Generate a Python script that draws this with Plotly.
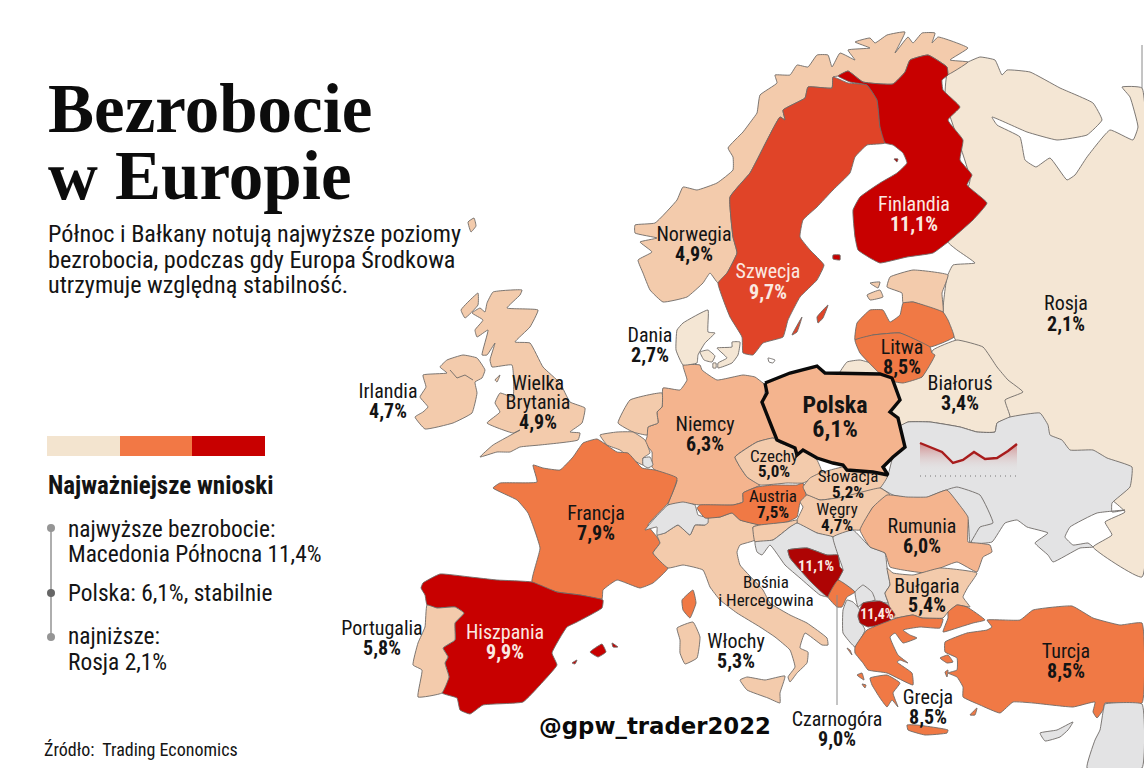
import plotly.graph_objects as go

W, H = 1144, 768

# unemployment labels, one row per country label
label_names = ["Rosja", "Finlandia", "Norwegia", "Szwecja", "Dania", "Litwa", "Białoruś", "Irlandia",
               "Niemcy", "Francja", "Rumunia", "Bułgaria", "Hiszpania", "Portugalia", "Włochy", "Turcja",
               "Grecja", "Czarnogóra"]
label_values = ["2,1%", "11,1%", "4,9%", "9,7%", "2,7%", "8,5%", "3,4%", "4,7%",
                "6,3%", "7,9%", "6,0%", "5,4%", "9,9%", "5,8%", "5,3%", "8,5%",
                "8,5%", "9,0%"]
label_x = [1066, 914, 694, 768, 650, 902, 960, 388, 705, 596, 922, 927, 505, 382, 736, 1066, 928, 837]
label_name_y = [305, 206, 236, 273, 337, 349, 385, 393, 426, 515, 528, 588, 634, 630, 643, 653, 699, 721]
label_value_y = [326, 226, 256, 294, 357, 369, 405, 413, 446, 535, 548, 607, 654, 650, 663, 673, 719, 741]
white_labels = ["Finlandia", "Szwecja", "Hiszpania"]

small_names = ["Czechy", "Słowacja", "Austria", "Węgry"]
small_values = ["5,0%", "5,2%", "7,5%", "4,7%"]
small_x = [774, 848, 773, 837]
small_name_y = [458, 478, 498, 511]
small_value_y = [473, 494, 514, 527]

# colour tiers
PALE = "#F4E6D4"
LIGHT = "#F3CBAC"
PEACH = "#F4B48E"
ORANGE = "#F07945"
SWEDE = "#E04428"
RED = "#C80000"
DARK_RED = "#AE0404"
GREY = "#E3E3E4"

# country outlines in its own pixel coordinates
russia = [(947,75),(968,62),(980,57),(995,60),(1002,75),(1007,70),(1030,72),(1060,88),(1093,103),(1102,120),(1087,135),(1057,140),(1027,132),(992,117),(997,125),(1020,137),(1025,160),(1036,167),(1050,158),(1067,180),(1075,175),(1087,157),(1110,130),(1133,140),(1138,127),(1130,97),(1122,87),(1142,88),(1142,577),(1093,547),(1112,535),(1105,522),(1125,512),(1112,500),(1000,420),(954,337),(943,312),(947,277),(953,265),(975,263),(957,250),(948,242),(970,180),(945,100)]
norway = [(718,283),(710,273),(703,283),(687,297),(663,302),(650,290),(643,273),(638,260),(652,252),(640,242),(657,238),(635,233),(635,225),(655,223),(677,200),(683,187),(697,190),(717,183),(733,170),(733,157),(728,148),(743,132),(752,120),(757,113),(760,95),(777,83),(775,75),(790,75),(797,65),(808,67),(817,55),(828,55),(832,67),(840,53),(855,60),(848,50),(870,48),(855,42),(870,38),(875,43),(887,35),(905,32),(895,53),(908,37),(913,43),(922,33),(935,33),(932,43),(938,37),(968,48),(950,60),(968,62),(947,75),(947,67),(928,55),(910,60),(905,72),(893,84),(863,82),(848,71),(838,76),(833,77),(832,88),(808,87),(805,98),(783,110),(785,120),(780,117),(757,160),(750,173),(730,197),(733,237),(737,253),(727,273)]
sweden = [(833,77),(848,83),(867,85),(877,100),(880,127),(885,143),(867,145),(855,157),(850,173),(833,190),(817,207),(803,220),(800,237),(810,250),(824,265),(817,280),(800,297),(788,320),(783,337),(763,343),(753,355),(743,353),(742,337),(730,317),(718,283),(727,273),(737,253),(733,237),(730,197),(750,173),(757,160),(780,117),(785,120),(783,110),(805,98),(808,87),(832,88)]
finland = [(838,76),(848,71),(863,82),(893,84),(905,72),(910,60),(928,55),(947,67),(948,75),(942,80),(943,90),(960,107),(948,120),(963,140),(960,160),(972,175),(967,185),(987,203),(973,220),(948,242),(933,253),(907,257),(880,263),(870,258),(858,250),(855,237),(853,210),(860,197),(880,183),(897,173),(907,163),(903,153),(893,145),(885,143),(880,127),(877,100),(867,85),(850,82)]
aland = [(833,255),(840,255),(840,260),(833,259)]
hailuoto = [(894,159),(898,159),(897,162)]
gotland = [(817,317),(828,305),(823,318),(818,323)]
oland = [(792,335),(802,317),(797,332)]
estonia = [(890,277),(913,270),(948,275),(942,293),(943,312),(913,302),(903,303),(902,293),(887,287)]
saaremaa = [(867,295),(880,290),(883,297),(870,300)]
hiiumaa = [(870,283),(880,282),(878,288)]
latvia = [(855,340),(857,323),(870,310),(883,310),(890,322),(900,315),(903,303),(913,302),(943,312),(948,320),(954,337),(930,347),(900,333),(873,335)]
lithuania = [(855,340),(873,335),(900,333),(930,347),(932,353),(935,355),(922,377),(903,383),(887,380),(860,353)]
kaliningrad = [(840,372),(847,362),(860,360),(890,370),(890,377),(840,377)]
belarus = [(933,350),(957,340),(983,347),(997,367),(1008,380),(1023,392),(1005,400),(1010,417),(997,423),(995,432),(977,432),(960,427),(930,422),(908,422),(897,428),(890,412),(900,400),(892,380),(922,377)]
ukraine = [(897,428),(908,422),(930,422),(960,427),(977,432),(995,432),(997,423),(1010,417),(1040,413),(1048,425),(1050,435),(1062,440),(1070,450),(1093,450),(1107,458),(1132,467),(1130,487),(1112,503),(1112,512),(1125,510),(1097,513),(1070,527),(1065,537),(1073,545),(1088,543),(1093,547),(1080,548),(1053,562),(1048,555),(1035,543),(1048,533),(1027,527),(1017,520),(1005,523),(992,542),(972,543),(968,520),(955,503),(947,490),(920,500),(893,495),(880,487),(888,475),(893,457),(905,447)]
moldova = [(947,490),(957,487),(980,495),(993,523),(980,527),(970,543),(968,520),(955,503)]
germany = [(683,365),(700,365),(702,370),(717,380),(743,375),(755,377),(763,383),(766,385),(763,403),(772,427),(775,438),(773,438),(757,442),(735,457),(747,477),(760,485),(743,493),(743,502),(733,505),(700,505),(683,503),(668,505),(677,480),(655,470),(652,467),(652,452),(645,443),(647,437),(648,427),(658,423),(657,412),(662,407),(663,388),(680,390),(687,380)]
denmark = [(677,330),(683,323),(708,310),(708,332),(715,333),(705,343),(698,355),(697,363),(683,365),(676,350)]
zealand = [(717,348),(732,347),(732,342),(740,342),(738,355),(732,363),(718,368),(718,363),(727,358)]
funen = [(700,352),(708,350),(715,356),(712,362),(704,360)]
lolland = [(713,363),(716,363),(716,368),(713,368)]
bornholm = [(768,358),(775,360),(773,363),(769,362)]
netherlands = [(618,423),(630,400),(662,393),(662,407),(657,412),(658,423),(648,427),(647,435),(633,432)]
belgium = [(600,435),(617,432),(633,432),(645,440),(650,453),(643,458),(643,465),(633,460),(620,450),(607,445)]
luxembourg = [(643,458),(650,457),(653,465),(648,468),(643,465)]
france = [(597,439),(617,452),(628,453),(642,468),(655,470),(677,478),(668,503),(648,525),(657,537),(660,543),(653,553),(668,568),(653,583),(640,588),(617,580),(603,590),(602,599),(580,595),(557,592),(532,582),(540,548),(528,513),(517,500),(493,488),(500,483),(537,482),(533,465),(543,468),(560,470),(573,457),(583,443)]
corsica = [(693,590),(696,603),(690,618),(683,610),(682,600)]
spain = [(440,574),(470,577),(497,580),(532,582),(557,592),(580,595),(603,600),(602,608),(577,622),(567,627),(552,653),(557,665),(540,685),(523,702),(483,705),(470,714),(460,710),(457,698),(442,693),(449,677),(445,663),(448,657),(443,648),(455,640),(455,623),(464,613),(455,607),(437,608),(427,605),(425,595),(421,588),(423,583)]
portugal = [(427,605),(437,608),(455,607),(464,613),(455,623),(455,640),(443,648),(448,657),(445,663),(449,677),(442,693),(418,697),(422,670),(413,665),(418,643),(425,627)]
mallorca = [(590,652),(602,644),(606,652),(598,657)]
menorca = [(612,643),(618,647),(613,647)]
ibiza = [(572,663),(577,660),(575,664)]
sardinia = [(677,628),(693,622),(700,637),(697,658),(685,664),(680,653),(680,640)]
italy = [(657,535),(665,533),(678,525),(690,535),(695,525),(705,525),(708,518),(720,517),(732,513),(740,520),(760,525),(753,527),(755,540),(740,545),(737,552),(740,565),(763,590),(770,603),(790,615),(807,623),(827,638),(828,645),(822,645),(805,633),(800,648),(808,652),(807,663),(797,673),(790,682),(788,677),(795,667),(790,650),(775,637),(760,627),(737,613),(720,600),(710,587),(703,570),(683,565),(668,568),(653,553),(660,543)]
sicily = [(740,680),(747,677),(765,680),(785,676),(780,693),(780,703),(768,698),(747,690)]
switzerland = [(645,530),(655,518),(668,505),(683,502),(695,505),(698,515),(708,518),(708,523),(705,525),(695,525),(690,535),(678,525),(665,533),(657,535),(657,527)]
austria = [(697,508),(700,505),(733,505),(743,502),(743,493),(757,487),(773,485),(797,485),(803,483),(806,497),(800,503),(797,517),(787,522),(760,525),(740,520),(732,513),(720,517),(705,518)]
czechia = [(735,457),(757,442),(773,438),(780,443),(795,448),(797,455),(803,450),(817,460),(822,473),(803,483),(787,483),(760,485),(747,477),(740,467)]
slovakia = [(803,487),(810,478),(820,473),(843,467),(853,470),(888,475),(880,488),(843,497),(820,500),(807,495)]
hungary = [(797,520),(803,507),(800,502),(807,495),(820,500),(843,497),(880,488),(890,495),(873,507),(860,530),(853,530),(833,537),(817,533),(797,523)]
slovenia = [(753,527),(760,525),(787,522),(797,520),(797,523),(790,527),(773,540),(755,542)]
croatia = [(755,542),(773,540),(790,527),(797,523),(817,533),(833,537),(838,555),(827,555),(807,548),(788,550),(790,558),(812,583),(828,597),(820,595),(800,578),(785,565),(770,545),(762,555),(757,552)]
serbia = [(833,537),(853,530),(870,547),(885,553),(887,567),(890,585),(885,593),(888,603),(870,600),(860,605),(855,592),(838,580),(843,570),(838,555)]
kosovo = [(855,592),(863,585),(872,592),(875,600),(863,603),(858,607)]
bosnia = [(788,550),(807,548),(827,555),(838,555),(840,567),(843,570),(838,580),(828,597),(812,583),(790,558)]
montenegro = [(828,597),(838,580),(855,592),(847,597),(842,607),(837,607)]
albania = [(855,647),(843,633),(843,610),(847,600),(853,602),(860,610),(858,617),(865,630)]
macedonia = [(858,615),(863,603),(880,601),(888,605),(895,615),(887,623),(868,627),(860,623)]
romania = [(860,530),(873,507),(887,495),(907,497),(927,497),(947,490),(958,503),(968,517),(968,542),(977,543),(990,545),(992,552),(983,557),(977,572),(957,562),(927,573),(903,570),(890,567),(885,553),(870,547)]
bulgaria = [(887,568),(893,573),(913,575),(940,568),(977,573),(968,587),(963,597),(970,607),(957,605),(948,612),(943,618),(922,618),(913,615),(893,618),(888,602),(885,593),(890,585)]
greece = [(897,618),(913,615),(922,618),(943,619),(940,628),(920,627),(903,630),(910,635),(917,638),(903,643),(895,633),(890,637),(898,655),(908,663),(900,660),(897,662),(912,673),(913,685),(887,673),(868,670),(863,663),(855,653),(855,647),(867,630)]
peloponnese = [(870,678),(887,675),(900,683),(893,693),(898,707),(892,700),(887,707),(880,698),(872,685)]
crete = [(907,725),(917,725),(948,730),(947,733),(925,735),(908,730)]
lesbos = [(940,658),(948,655),(953,662),(947,663)]
rhodes = [(970,715),(977,708),(975,715)]
chios = [(945,672),(948,670),(947,677)]
corfu = [(847,648),(850,650),(852,655)]
kefalonia = [(857,675),(862,673),(864,680)]
zakynthos = [(862,684),(866,685),(865,688)]
thrace = [(948,612),(957,605),(967,607),(985,620),(973,623),(957,628),(943,632),(948,618)]
turkey = [(987,620),(1020,620),(1033,610),(1072,606),(1093,618),(1120,625),(1142,623),(1142,703),(1105,703),(1103,710),(1097,718),(1093,712),(1095,702),(1073,707),(1033,703),(1013,702),(1000,713),(980,705),(963,697),(963,687),(957,677),(948,673),(957,670),(957,658),(945,652),(945,642),(967,633),(987,630),(992,627)]
syria = [(1105,704),(1142,704),(1142,768),(1087,768),(1095,740),(1100,730),(1103,712)]
cyprus = [(1040,733),(1057,730),(1073,722),(1068,730),(1060,737),(1045,741)]
britain = [(493,292),(522,290),(520,295),(507,308),(538,310),(530,327),(515,342),(530,343),(543,367),(560,383),(570,402),(585,408),(582,423),(570,432),(580,433),(578,440),(540,445),(520,447),(510,452),(497,452),(480,457),(493,445),(520,430),(513,433),(487,423),(500,412),(495,403),(500,393),(513,397),(512,365),(492,367),(490,360),(495,343),(487,355),(482,355),(488,330),(477,337),(475,330),(483,320),(472,313),(480,308),(485,312),(487,303)]
ireland = [(440,367),(447,360),(463,355),(477,358),(485,370),(482,378),(475,382),(477,393),(472,413),(453,423),(425,429),(415,417),(423,412),(428,407),(420,397),(426,387),(423,375),(447,373)]
ulster_border = [(450,370),(457,378),(465,375),(473,380)]
hebrides = [(467,303),(478,293),(478,305),(465,318),(461,310)]
anglesey = [(495,380),(500,375),(497,382)]
shetland = [(468,222),(474,218),(476,226),(471,232)]
poland = [(765,383),(790,373),(817,366),(825,373),(880,374),(892,378),(900,400),(890,412),(898,418),(905,447),(893,457),(883,467),(888,475),(873,472),(847,470),(843,465),(833,463),(817,458),(803,450),(797,455),(795,448),(777,440),(773,430),(768,417),(762,402),(767,393)]

regions = [
    (russia, PALE), (kaliningrad, PALE), (norway, LIGHT), (sweden, SWEDE), (gotland, SWEDE), (oland, SWEDE),
    (finland, RED), (aland, RED), (hailuoto, DARK_RED), (belarus, PALE), (ukraine, GREY), (moldova, GREY),
    (estonia, LIGHT), (saaremaa, LIGHT), (hiiumaa, LIGHT), (latvia, ORANGE), (lithuania, ORANGE),
    (germany, PEACH), (denmark, PALE), (zealand, PALE), (funen, PALE), (lolland, PALE), (bornholm, "#FFFFFF"),
    (netherlands, LIGHT), (belgium, LIGHT), (luxembourg, GREY), (france, ORANGE), (corsica, ORANGE),
    (spain, RED), (portugal, LIGHT), (mallorca, RED), (menorca, RED), (ibiza, RED),
    (italy, LIGHT), (sardinia, LIGHT), (sicily, LIGHT), (switzerland, GREY), (austria, ORANGE),
    (czechia, LIGHT), (slovakia, LIGHT), (hungary, LIGHT), (slovenia, LIGHT), (croatia, GREY),
    (serbia, GREY), (kosovo, GREY), (bosnia, DARK_RED), (montenegro, ORANGE), (albania, GREY),
    (romania, PEACH), (bulgaria, LIGHT), (macedonia, DARK_RED), (greece, ORANGE), (peloponnese, ORANGE),
    (crete, ORANGE), (lesbos, ORANGE), (rhodes, ORANGE), (chios, ORANGE), (corfu, ORANGE), (kefalonia, ORANGE),
    (zakynthos, ORANGE), (thrace, ORANGE), (turkey, ORANGE), (syria, GREY), (cyprus, GREY),
    (britain, LIGHT), (ireland, LIGHT), (hebrides, LIGHT), (anglesey, LIGHT), (shetland, LIGHT),
]

# small trend line drawn over Ukraine
spark_x = [920, 942, 953, 963, 974, 985, 997, 1008, 1017]
spark_y = [443, 452, 463, 460, 452, 459, 458, 451, 444]
spark_base = 472
dotted_y = 476

# left panel
legend_colors = ["#F3E4CF", "#F27845", "#C80000"]
legend_edges = [47, 120, 192, 265]
dot_x = 51
dot_y = [528, 593, 637]
dot_colors = ["#959595", "#666666", "#959595"]
title_lines = [("Bezrobocie", 115), ("w Europie", 182)]
subtitle_lines = [("Północ i Bałkany notują najwyższe poziomy", 236),
                  ("bezrobocia, podczas gdy Europa Środkowa", 262),
                  ("utrzymuje względną stabilność.", 287)]
takeaways = [("najwyższe bezrobocie:", 531), ("Macedonia Północna 11,4%", 556),
             ("Polska: 6,1%, stabilnie", 595), ("najniższe:", 638), ("Rosja 2,1%", 664)]

SERIF = "Liberation Serif"
NARROW = "Roboto"
INK = "#141414"

fig = go.Figure()


def close(points):
    return [p[0] for p in points] + [points[0][0]], [p[1] for p in points] + [points[0][1]]


for shape, color in regions:
    xs, ys = close(shape)
    fig.add_trace(go.Scatter(x=xs, y=ys, mode="lines", fill="toself", fillcolor=color,
                             line=dict(color="#6E6A66", width=0.9, shape="spline", smoothing=0.35),
                             hoverinfo="skip"))

fig.add_trace(go.Scatter(x=[p[0] for p in ulster_border], y=[p[1] for p in ulster_border], mode="lines",
                         line=dict(color="#6E6A66", width=0.9), hoverinfo="skip"))
fig.add_trace(go.Scatter(x=[1142, 1142], y=[45, 88], mode="lines", line=dict(color="#8A8A8A", width=1), hoverinfo="skip"))

# Poland gets the heavy outline
xs, ys = close(poland)
fig.add_trace(go.Scatter(x=xs, y=ys, mode="lines", fill="toself", fillcolor=PEACH,
                         line=dict(color="#0A0A0A", width=3.4), hoverinfo="skip"))

# sparkline
fig.add_trace(go.Scatter(x=spark_x + [spark_x[-1], spark_x[0]], y=spark_y + [spark_base, spark_base],
                         mode="none", fill="toself",
                         fillgradient=dict(type="vertical",
                                           colorscale=[[0, "rgba(227,227,228,0)"], [1, "rgba(190,50,50,0.5)"]]),
                         hoverinfo="skip"))
fig.add_trace(go.Scatter(x=spark_x, y=spark_y, mode="lines", line=dict(color="#A81C1C", width=2.4), hoverinfo="skip"))
fig.add_trace(go.Scatter(x=[spark_x[0], spark_x[-1] + 2], y=[dotted_y, dotted_y], mode="lines",
                         line=dict(color="#777777", width=1, dash="1px 4px"), hoverinfo="skip"))

# leader to Czarnogóra
fig.add_trace(go.Scatter(x=[837, 837], y=[595, 705], mode="lines", line=dict(color="#8A8A8A", width=1), hoverinfo="skip"))

# legend strip
for i, color in enumerate(legend_colors):
    fig.add_shape(type="rect", x0=legend_edges[i], x1=legend_edges[i + 1], y0=436, y1=456,
                  fillcolor=color, line_width=0, layer="above")

# timeline in the takeaways
fig.add_trace(go.Scatter(x=[dot_x, dot_x], y=[dot_y[0], dot_y[-1]], mode="lines",
                         line=dict(color="#9A9A9A", width=1.6), hoverinfo="skip"))
fig.add_trace(go.Scatter(x=[dot_x] * 3, y=dot_y, mode="markers", marker=dict(size=8, color=dot_colors), hoverinfo="skip"))

# country labels
name_colors = ["#FBE9E2" if n in white_labels else INK for n in label_names]
fig.add_trace(go.Scatter(x=label_x, y=label_name_y, mode="text", text=label_names,
                         textfont=dict(family=NARROW, size=20, color=name_colors), hoverinfo="skip"))
fig.add_trace(go.Scatter(x=label_x, y=label_value_y, mode="text", text=["<b>%s</b>" % v for v in label_values],
                         textfont=dict(family=NARROW, size=20, color=name_colors), hoverinfo="skip"))
fig.add_trace(go.Scatter(x=small_x, y=small_name_y, mode="text", text=small_names,
                         textfont=dict(family=NARROW, size=17, color=INK), hoverinfo="skip"))
fig.add_trace(go.Scatter(x=small_x, y=small_value_y, mode="text", text=["<b>%s</b>" % v for v in small_values],
                         textfont=dict(family=NARROW, size=17, color=INK), hoverinfo="skip"))


# single texts go in as text traces too: annotations measure their box before the condensed cut applies
def note(text, x, y, size, family=NARROW, color=INK, position="middle right"):
    fig.add_trace(go.Scatter(x=[x], y=[y], mode="text", text=[text], textposition=position,
                             textfont=dict(family=family, size=size, color=color), hoverinfo="skip"))


note("<b>Polska</b>", 835, 407, 24, position="middle center")
note("<b>6,1%</b>", 835, 431, 24, position="middle center")
note("Wielka", 538, 385, 20, position="middle center")
note("Brytania", 538, 404, 20, position="middle center")
note("<b>4,9%</b>", 538, 424, 20, position="middle center")
note("Bośnia", 766, 584, 17, position="middle center")
note("i Hercegowina", 766, 602, 17, position="middle center")
note("<b>11,1%</b>", 816, 567, 15, color="#FBE9E2", position="middle center")
note("<b>11,4%</b>", 877, 615, 14, color="#FBE9E2", position="middle center")
note("<b>@gpw_trader2022</b>", 539, 728, 22.8, family="DejaVu Sans", color="#0A0A0A")

for text, y in title_lines:
    note("<b>%s</b>" % text, 48, y, 69, family=SERIF, color="#0C0C0C")
for text, y in subtitle_lines:
    note(text, 48, y, 24.2)
note("<b>Najważniejsze wnioski</b>", 48, 488, 25)
for text, y in takeaways:
    note(text, 68, y, 23.4)
note("Źródło:  Trading Economics", 44, 751, 18)

fig.update_xaxes(range=[0, W], visible=False, fixedrange=True)
fig.update_yaxes(range=[H, 0], visible=False, fixedrange=True)
fig.update_layout(width=W, height=H, margin=dict(l=0, r=0, t=0, b=0), showlegend=False,
                  paper_bgcolor="white", plot_bgcolor="white")

# Roboto condensed cut for the labels, body margin off so the page matches the figure size
fig.write_html("out.html", config={"displayModeBar": False},
               post_script="document.body.style.margin='0';"
                           "var s=document.createElement('style');"
                           "s.textContent='svg text[style*=\"Roboto\"]{font-stretch:75%}';document.head.appendChild(s);")
